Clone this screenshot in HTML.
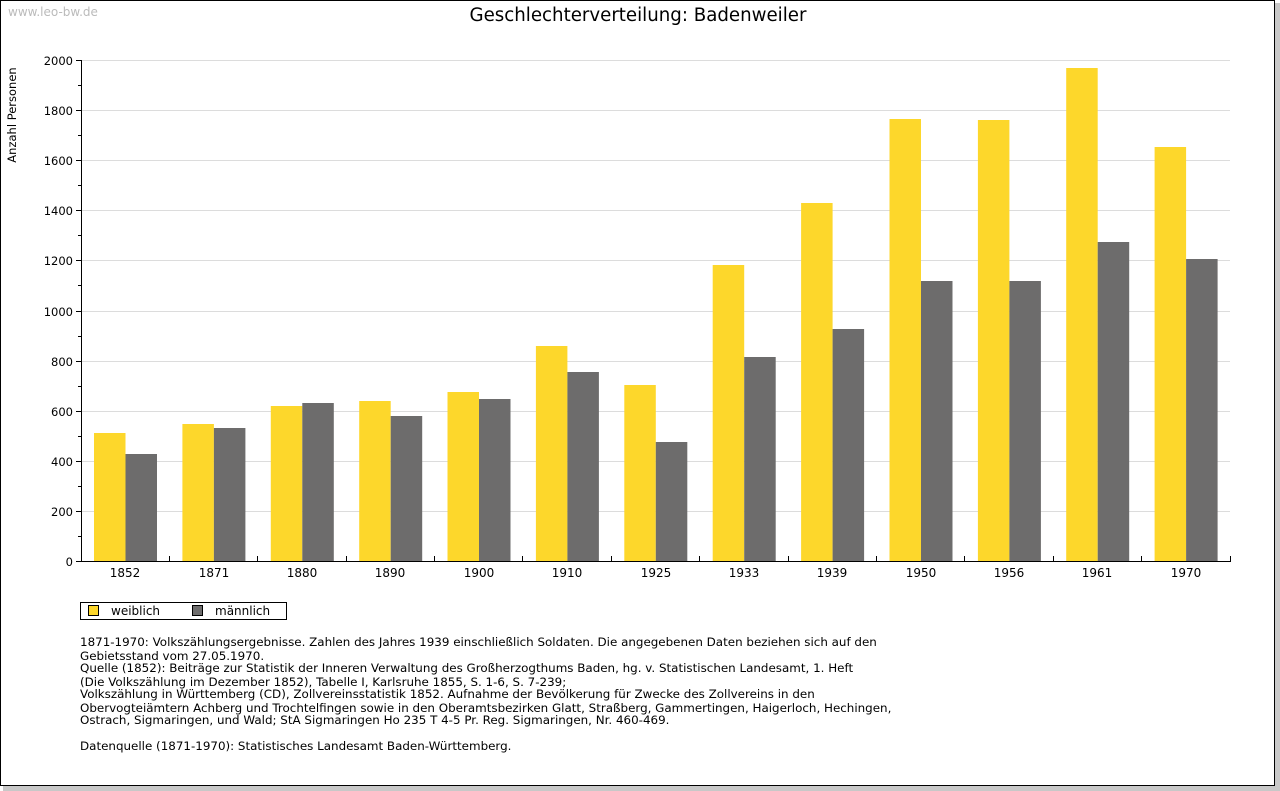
<!DOCTYPE html>
<html><head><meta charset="utf-8"><style>
body{margin:0;background:#fff;}
svg{display:block;font-family:"DejaVu Sans","Liberation Sans",sans-serif;}
.t{font-size:12px;fill:#000}
.s{font-size:11.5px;fill:#000}
.n{font-size:11.9px;fill:#000}
</style></head><body>
<svg width="1280" height="791" viewBox="0 0 1280 791">
<rect x="3" y="3" width="1277" height="788" fill="#c8c8c8"/>
<rect x="0.5" y="0.5" width="1274" height="785" fill="#fff" stroke="#000"/>
<text x="8" y="16" font-size="12" fill="#bbb">www.leo-bw.de</text>
<text x="638" y="21" font-size="18.2" text-anchor="middle">Geschlechterverteilung: Badenweiler</text>
<text transform="translate(16,115) rotate(-90)" class="s" text-anchor="middle">Anzahl Personen</text>
<g stroke="#dcdcdc" stroke-width="1">
<line x1="81" x2="1230" y1="60.5" y2="60.5"/><line x1="81" x2="1230" y1="110.5" y2="110.5"/>
<line x1="81" x2="1230" y1="160.5" y2="160.5"/><line x1="81" x2="1230" y1="210.5" y2="210.5"/>
<line x1="81" x2="1230" y1="260.5" y2="260.5"/><line x1="81" x2="1230" y1="311.5" y2="311.5"/>
<line x1="81" x2="1230" y1="361.5" y2="361.5"/><line x1="81" x2="1230" y1="411.5" y2="411.5"/>
<line x1="81" x2="1230" y1="461.5" y2="461.5"/><line x1="81" x2="1230" y1="511.5" y2="511.5"/>
</g>
<g fill="#fdd72b">
<rect x="94" y="433" width="31.5" height="128"/>
<rect x="182.4" y="424" width="31.5" height="137"/>
<rect x="270.8" y="406" width="31.5" height="155"/>
<rect x="359.2" y="401" width="31.5" height="160"/>
<rect x="447.5" y="392" width="31.5" height="169"/>
<rect x="535.9" y="346" width="31.5" height="215"/>
<rect x="624.3" y="385" width="31.5" height="176"/>
<rect x="712.7" y="265" width="31.5" height="296"/>
<rect x="801.1" y="203" width="31.5" height="358"/>
<rect x="889.5" y="119" width="31.5" height="442"/>
<rect x="977.9" y="120" width="31.5" height="441"/>
<rect x="1066.2" y="68" width="31.5" height="493"/>
<rect x="1154.6" y="147" width="31.5" height="414"/>
</g>
<g fill="#6d6c6c">
<rect x="125.5" y="454" width="31.5" height="107"/>
<rect x="213.9" y="428" width="31.5" height="133"/>
<rect x="302.3" y="403" width="31.5" height="158"/>
<rect x="390.7" y="416" width="31.5" height="145"/>
<rect x="479" y="399" width="31.5" height="162"/>
<rect x="567.4" y="372" width="31.5" height="189"/>
<rect x="655.8" y="442" width="31.5" height="119"/>
<rect x="744.2" y="357" width="31.5" height="204"/>
<rect x="832.6" y="329" width="31.5" height="232"/>
<rect x="921" y="281" width="31.5" height="280"/>
<rect x="1009.4" y="281" width="31.5" height="280"/>
<rect x="1097.7" y="242" width="31.5" height="319"/>
<rect x="1186.1" y="259" width="31.5" height="302"/>
</g>
<g stroke="#000" stroke-width="1">
<line x1="81.5" y1="60" x2="81.5" y2="562"/>
<line x1="81" y1="561.5" x2="1231" y2="561.5"/>
<path d="M76 60.5h5M76 110.5h5M76 160.5h5M76 210.5h5M76 260.5h5M76 311.5h5M76 361.5h5M76 411.5h5M76 461.5h5M76 511.5h5M76 561.5h5M78 85.5h3M78 135.5h3M78 185.5h3M78 235.5h3M78 285.5h3M78 336.5h3M78 386.5h3M78 436.5h3M78 486.5h3M78 536.5h3"/>
<path d="M169.5 556v5M257.5 556v5M346.5 556v5M434.5 556v5M522.5 556v5M611.5 556v5M699.5 556v5M788.5 556v5M876.5 556v5M964.5 556v5M1053.5 556v5M1141.5 556v5M1230.5 556v5"/>
</g>
<g class="s" text-anchor="end">
<text x="73" y="65">2000</text><text x="73" y="115">1800</text><text x="73" y="165">1600</text>
<text x="73" y="215">1400</text><text x="73" y="265">1200</text><text x="73" y="316">1000</text>
<text x="73" y="366">800</text><text x="73" y="416">600</text><text x="73" y="466">400</text>
<text x="73" y="516">200</text><text x="73" y="566">0</text>
</g>
<g class="t" text-anchor="middle">
<text x="125" y="577">1852</text><text x="214" y="577">1871</text><text x="302" y="577">1880</text>
<text x="390" y="577">1890</text><text x="479" y="577">1900</text><text x="567" y="577">1910</text>
<text x="656" y="577">1925</text><text x="744" y="577">1933</text><text x="832" y="577">1939</text>
<text x="921" y="577">1950</text><text x="1009" y="577">1956</text><text x="1097" y="577">1961</text>
<text x="1186" y="577">1970</text>
</g>
<rect x="80.5" y="602.5" width="206" height="17" fill="#fff" stroke="#000"/>
<rect x="88.5" y="605.5" width="10" height="10" fill="#fdd72b" stroke="#000"/>
<rect x="192.5" y="605.5" width="10" height="10" fill="#6d6c6c" stroke="#000"/>
<text x="111" y="615" class="t">weiblich</text>
<text x="215" y="615" class="t">männlich</text>
<g class="n">
<text x="80" y="646">1871-1970: Volkszählungsergebnisse. Zahlen des Jahres 1939 einschließlich Soldaten. Die angegebenen Daten beziehen sich auf den</text>
<text x="80" y="660">Gebietsstand vom 27.05.1970.</text>
<text x="80" y="672">Quelle (1852): Beiträge zur Statistik der Inneren Verwaltung des Großherzogthums Baden, hg. v. Statistischen Landesamt, 1. Heft</text>
<text x="80" y="686">(Die Volkszählung im Dezember 1852), Tabelle I, Karlsruhe 1855, S. 1-6, S. 7-239;</text>
<text x="80" y="698">Volkszählung in Württemberg (CD), Zollvereinsstatistik 1852. Aufnahme der Bevölkerung für Zwecke des Zollvereins in den</text>
<text x="80" y="712">Obervogteiämtern Achberg und Trochtelfingen sowie in den Oberamtsbezirken Glatt, Straßberg, Gammertingen, Haigerloch, Hechingen,</text>
<text x="80" y="724">Ostrach, Sigmaringen, und Wald; StA Sigmaringen Ho 235 T 4-5 Pr. Reg. Sigmaringen, Nr. 460-469.</text>
<text x="80" y="750">Datenquelle (1871-1970): Statistisches Landesamt Baden-Württemberg.</text>
</g>
</svg>
</body></html>
